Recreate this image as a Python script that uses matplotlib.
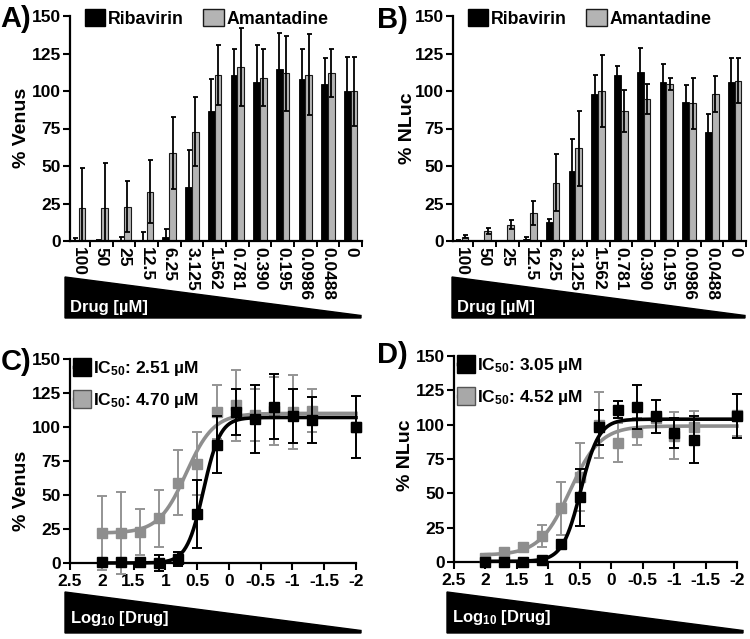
import numpy as np
import matplotlib
matplotlib.use("Agg")
import matplotlib.pyplot as plt
from matplotlib.patches import Patch, Polygon
from matplotlib.lines import Line2D

plt.rcParams['font.family'] = ['Liberation Sans', 'DejaVu Sans']
plt.rcParams['font.weight'] = 'bold'
plt.rcParams['mathtext.fontset'] = 'custom'
plt.rcParams['mathtext.rm'] = 'Liberation Sans:bold'
plt.rcParams['mathtext.it'] = 'Liberation Sans:bold'
plt.rcParams['mathtext.bf'] = 'Liberation Sans:bold'
plt.rcParams['mathtext.default'] = 'rm'

# ---------------- data ----------------
conc_labels = ['100', '50', '25', '12.5', '6.25', '3.125', '1.562', '0.781',
               '0.390', '0.195', '0.0986', '0.0488', '0']
log_conc = [2.0, 1.699, 1.398, 1.097, 0.796, 0.495, 0.194, -0.107,
            -0.409, -0.710, -1.006, -1.312, -2.0]

# Panel A / C (% Venus)
rib_venus = [1, 0.5, 0.5, 0, 3, 36, 87, 111, 106, 115, 108, 105, 100]
rib_venus_err = [1, 0.5, 2.5, 6, 5, 25, 21, 17, 25, 24, 20, 17, 23]
ama_venus = [22, 22, 23, 33, 59, 73, 111, 116, 109, 112, 111, 112, 100]
ama_venus_err = [27, 30, 17, 21, 24, 23, 20, 26, 19, 25, 27, 16, 23]

# Panel B (% NLuc)
rib_nluc = [0.3, 0, 0, 1.5, 13, 47, 98, 111, 113, 106, 93, 73, 106]
rib_nluc_err = [0.3, 0, 0, 1, 2, 21, 13, 6, 16, 12, 11, 12, 16]
ama_nluc = [3, 7, 11, 19, 39, 62, 100, 87, 95, 105, 92, 98, 107]
ama_nluc_err = [1, 2, 3, 8, 19, 25, 24, 14, 10, 4, 17, 12, 15]

# Panel D (% NLuc, dose-response points)
rib_nluc_d = [0.3, 0, 0, 1.5, 13, 47, 98, 111, 113, 106, 94, 89, 106]
rib_nluc_d_err = [0.3, 0, 0, 1, 2, 21, 13, 6, 16, 12, 11, 17, 16]
ama_nluc_d = [3, 7, 11, 19, 39, 62, 100, 87, 95, 105, 92, 98, 107]
ama_nluc_d_err = [1, 2, 3, 8, 19, 25, 24, 14, 10, 4, 17, 12, 15]

# Fitted 4-parameter logistic parameters: bottom, top, logIC50, hill
fit_rib_venus = [0, 107, np.log10(2.51), 3.3]
fit_ama_venus = [22, 110, np.log10(4.70), 2.0]
fit_rib_nluc = [0.5, 104, np.log10(3.05), 3.0]
fit_ama_nluc = [5, 99, np.log10(4.52), 1.8]
ic50_venus = ['IC$_{50}$: 2.51 µM', 'IC$_{50}$: 4.70 µM']
ic50_nluc = ['IC$_{50}$: 3.05 µM', 'IC$_{50}$: 4.52 µM']

series_names = ['Ribavirin', 'Amantadine']
yticks = [0, 25, 50, 75, 100, 125, 150]
xticks_log = [2.5, 2, 1.5, 1, 0.5, 0, -0.5, -1, -1.5, -2]
xticklabels_log = ['2.5', '2', '1.5', '1', '0.5', '0', '-0.5', '-1', '-1.5', '-2']

BAR_GRAY = '#b4b4b4'
LINE_GRAY = '#8e8e8e'
TICK_FS = 12.5

W, H = 750, 639
fig = plt.figure(figsize=(7.5, 6.39), dpi=100)


def px_axes(x0, x1, ytop, ybot):
    return fig.add_axes([x0 / W, 1 - ybot / H, (x1 - x0) / W, (ybot - ytop) / H])


def style_axes(ax):
    for s in ['top', 'right']:
        ax.spines[s].set_visible(False)
    for s in ['left', 'bottom']:
        ax.spines[s].set_linewidth(1.6)
    ax.set_ylim(0, 150)
    ax.set_yticks(yticks)
    ax.tick_params(axis='y', direction='out', length=5, width=1.5, labelsize=TICK_FS, pad=1.5)


def bar_panel(ax, rib, rib_err, ama, ama_err):
    style_axes(ax)
    x = np.arange(len(conc_labels))
    w = 0.3
    ek = dict(ecolor='black', elinewidth=1.3, capsize=1.8, capthick=1.3)
    ax.bar(x - w / 2, rib, w, color='black', edgecolor='black', linewidth=0.6,
           yerr=rib_err, error_kw=ek)
    ax.bar(x + w / 2, ama, w, color=BAR_GRAY, edgecolor='#1a1a1a', linewidth=0.8,
           yerr=ama_err, error_kw=ek)
    ax.set_xlim(-0.38, 12.5)
    ax.set_xticks(x)
    ax.set_xticklabels(conc_labels, rotation=-90, fontsize=TICK_FS)
    ax.tick_params(axis='x', which='major', length=0, pad=4)
    ax.set_xticks(np.arange(0.5, 12.6, 1.0), minor=True)
    ax.tick_params(axis='x', which='minor', direction='out', length=4, width=1.4)
    handles = [Patch(facecolor='black', edgecolor='black'),
               Patch(facecolor=BAR_GRAY, edgecolor='#1a1a1a')]
    ax.legend(handles, series_names, ncol=2, loc='upper left',
              bbox_to_anchor=(0.05, 1.03), frameon=False, fontsize=12.8,
              handlelength=1.15, handleheight=1.05, handletextpad=0.15,
              columnspacing=1.1, borderpad=0, borderaxespad=0)


def logistic(xs, p):
    bottom, top, logic, hill = p
    return bottom + (top - bottom) / (1 + 10 ** ((xs - logic) * hill))


def curve_panel(ax, rib, rib_err, ama, ama_err, fit_rib, fit_ama, labels):
    style_axes(ax)
    ax.set_xlim(2.5, -2)
    ax.set_xticks(xticks_log)
    ax.set_xticklabels(xticklabels_log, fontsize=TICK_FS)
    ax.tick_params(axis='x', direction='out', length=5, width=1.5, pad=3)
    xs = np.linspace(2.0, -2.0, 400)
    ax.plot(xs, logistic(xs, fit_ama), color=LINE_GRAY, lw=2.6, zorder=2, clip_on=False)
    ax.errorbar(log_conc, ama, yerr=ama_err, fmt='s', color=LINE_GRAY, ms=7,
                ecolor='#949494', elinewidth=1.4, capsize=3.5, capthick=1.4,
                zorder=3, clip_on=False)
    ax.plot(xs, logistic(xs, fit_rib), color='black', lw=2.6, zorder=4, clip_on=False)
    ax.errorbar(log_conc, rib, yerr=rib_err, fmt='s', color='black', ms=7,
                ecolor='black', elinewidth=1.4, capsize=3.5, capthick=1.4,
                zorder=5, clip_on=False)
    handles = [Line2D([0], [0], color='black', lw=2.5, marker='s', ms=13,
                      markeredgecolor='black'),
               Line2D([0], [0], color=LINE_GRAY, lw=2.5, marker='s', ms=13,
                      markerfacecolor='#a8a8a8', markeredgecolor='#555555')]
    ax.legend(handles, labels, loc='upper left', bbox_to_anchor=(0.015, 1.0),
              frameon=False, fontsize=12.5, handlelength=0.85, handletextpad=0.25,
              labelspacing=0.75, borderpad=0, borderaxespad=0)


axA = px_axes(70, 362, 16, 241)
bar_panel(axA, rib_venus, rib_venus_err, ama_venus, ama_venus_err)
axB = px_axes(453, 746, 16, 241)
bar_panel(axB, rib_nluc, rib_nluc_err, ama_nluc, ama_nluc_err)
axC = px_axes(70, 356, 359, 563)
curve_panel(axC, rib_venus, rib_venus_err, ama_venus, ama_venus_err,
            fit_rib_venus, fit_ama_venus, ic50_venus)
axD = px_axes(454, 737, 356, 562)
curve_panel(axD, rib_nluc_d, rib_nluc_d_err, ama_nluc_d, ama_nluc_d_err,
            fit_rib_nluc, fit_ama_nluc, ic50_nluc)


def ftext(x, y, s, **kw):
    fig.text(x / W, 1 - y / H, s, **kw)


# y labels
ftext(21, 128, '% Venus', rotation=90, ha='center', va='center', fontsize=14)
ftext(407, 128, '% NLuc', rotation=90, ha='center', va='center', fontsize=14)
ftext(21, 491, '% Venus', rotation=90, ha='center', va='center', fontsize=14)
ftext(406, 455, '% NLuc', rotation=90, ha='center', va='center', fontsize=14)

# panel letters
ftext(0, 27, 'A)', fontsize=21, va='baseline', ha='left')
ftext(377, 28, 'B)', fontsize=21, va='baseline', ha='left')
ftext(1, 370, 'C)', fontsize=21, va='baseline', ha='left')
ftext(377, 363, 'D)', fontsize=21, va='baseline', ha='left')


# concentration wedges
def wedge(x0, x1, ytop, ybot, label, tx, ty):
    pts = [(x0, ytop), (x1, ybot - 2.5), (x1, ybot), (x0, ybot)]
    poly = Polygon([(px / W, 1 - py / H) for px, py in pts], closed=True,
                   facecolor='black', edgecolor='black', transform=fig.transFigure)
    fig.patches.append(poly)
    ftext(tx, ty, label, color='white', fontsize=12, va='baseline', ha='left')


wedge(65, 361, 277, 318, 'Drug [µM]', 70, 312)
wedge(452, 745, 277, 318, 'Drug [µM]', 457, 312)
wedge(65, 361, 592, 633, 'Log$_{10}$ [Drug]', 70, 623)
wedge(447, 743, 592, 633, 'Log$_{10}$ [Drug]', 452, 622)

fig.savefig('out.png', dpi=100)
